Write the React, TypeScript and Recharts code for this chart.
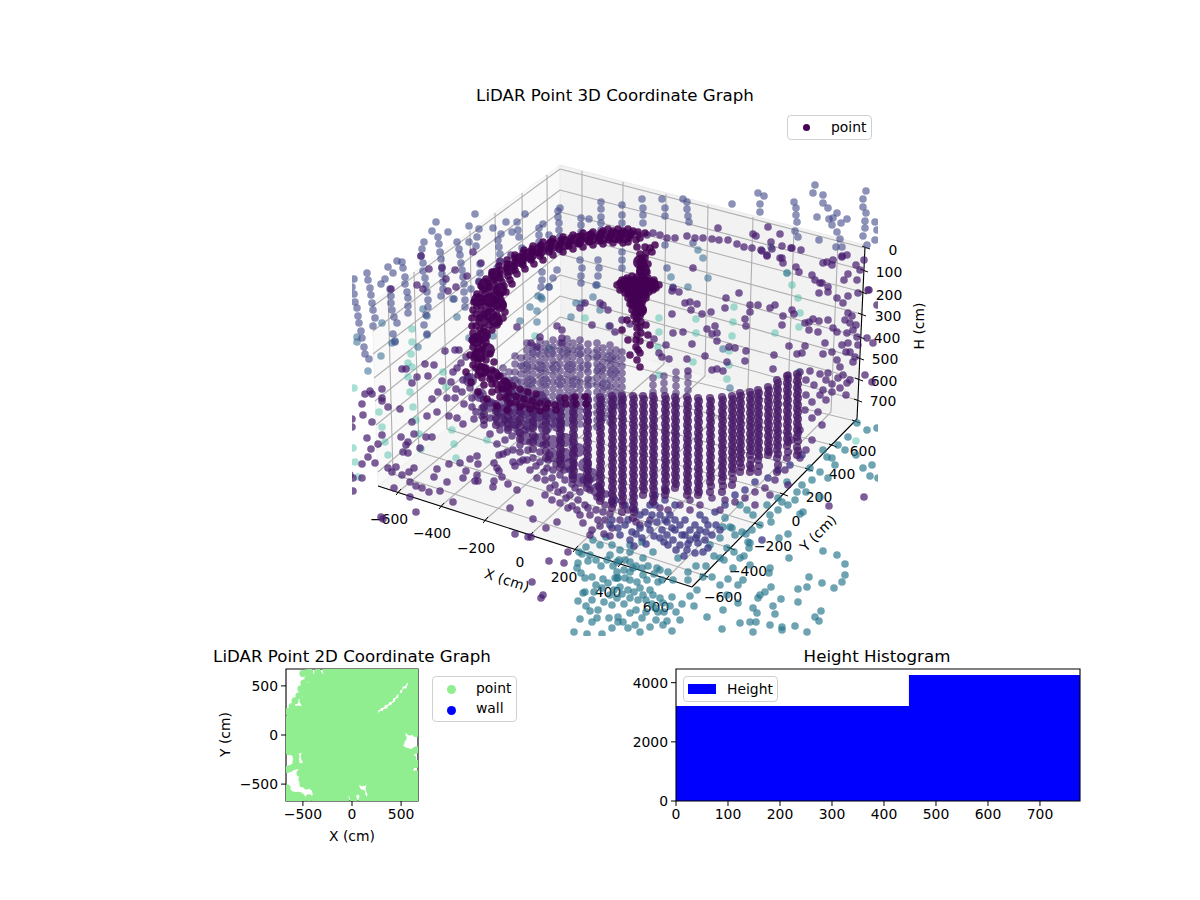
import {
    Area,
    AreaChart,
    Legend,
    ReferenceArea,
    ReferenceDot,
    ReferenceLine,
    Scatter,
    ScatterChart,
    XAxis,
    YAxis,
} from "recharts";

type Pair = [number, number];

const FONT = '"DejaVu Sans", sans-serif';

const viewX: Pair = [352, 878];
const viewY: Pair = [165, 636];
const frameX: Pair = [300, 950];
const frameY: Pair = [100, 650];

const leftPane: Pair[] = [[560, 165], [372, 303], [378, 486], [561, 335]];
const backPane: Pair[] = [[560, 165], [865, 245], [857, 419], [561, 335]];
const floorPane: Pair[] = [[378, 486], [692, 587], [857, 419], [561, 335]];

const axisEdges: [Pair, Pair][] = [
    [[378, 486], [692, 587]],
    [[692, 587], [857, 419]],
    [[865, 247], [857, 419]],
];

const gridLines: [Pair, Pair][] = [
    // back pane verticals
    [[582, 171], [582, 341]], [[623, 182], [622, 352]], [[666, 194], [664, 364]], [[708, 205], [705, 376]],
    [[753, 217], [748, 388]], [[794, 228], [788, 399]], [[838, 240], [831, 412]],
    // left pane verticals
    [[547, 175], [548, 346]], [[522, 193], [524, 366]], [[495, 213], [498, 387]], [[470, 231], [473, 408]],
    [[443, 251], [447, 429]], [[414, 272], [419, 452]], [[388, 291], [393, 474]],
    // height lines, right half
    [[865, 248], [560, 169]], [[863, 270], [560, 190]], [[862, 292], [560, 212]], [[861, 314], [560, 233]],
    [[860, 337], [560, 254]], [[859, 358], [560, 275]], [[858, 379], [560, 296]], [[857, 400], [560, 317]],
    // height lines, left half
    [[560, 169], [372, 307]], [[560, 190], [373, 331]], [[560, 212], [373, 354]], [[560, 233], [374, 378]],
    [[560, 254], [375, 401]], [[560, 275], [376, 425]], [[560, 296], [377, 448]], [[560, 317], [378, 472]],
    // floor lines running to the X axis
    [[398, 492], [582, 341]], [[441, 506], [622, 352]], [[485, 520], [664, 364]], [[530, 535], [705, 376]],
    [[575, 549], [748, 388]], [[620, 564], [788, 399]], [[666, 579], [831, 412]],
    // floor lines running to the Y axis
    [[393, 474], [703, 575]], [[419, 452], [730, 548]], [[447, 429], [757, 524]], [[473, 408], [783, 494]],
    [[498, 387], [808, 469]], [[524, 366], [832, 445]], [[548, 346], [855, 421]],
];

const xTickMarks: Pair[] = [[398, 492], [441, 506], [485, 520], [530, 535], [575, 549], [620, 564], [666, 579]];
const yTickMarks: Pair[] = [[703, 575], [730, 548], [757, 524], [783, 494], [808, 469], [832, 445], [855, 421]];
const hTickMarks: Pair[] = [[865, 247], [863, 270], [862, 292], [861, 314], [860, 337], [859, 358], [858, 379], [857, 400]];

const xTickLabels = ["−600", "−400", "−200", "0", "200", "400", "600"];
const xLabelSpots: Pair[] = [[389, 519], [432, 533], [476, 548], [520, 562], [564, 577], [608, 592], [656, 607]];
const yTickLabels = ["−600", "−400", "−200", "0", "200", "400", "600"];
const yLabelSpots: Pair[] = [[723, 597], [748, 571], [773, 546], [796, 521], [819, 497], [842, 474], [863, 451]];
const hTickLabels = ["0", "100", "200", "300", "400", "500", "600", "700"];
const hLabelSpots: Pair[] = [[893, 250], [889, 272], [889, 295], [888, 316], [887, 338], [885, 359], [884, 381], [883, 401]];

const aquaPoints: Pair[] = [
    [734, 307], [696, 319], [659, 318], [733, 322], [659, 332], [696, 333], [732, 336], [775, 333], [799, 327], [800, 313],
    [792, 285], [787, 273], [798, 298], [729, 351], [693, 362], [729, 365], [727, 379], [799, 372], [658, 347], [659, 375],
    [585, 318], [549, 348], [412, 329], [412, 342], [411, 354], [408, 363], [412, 367], [408, 377], [443, 372], [446, 387],
    [410, 392], [535, 336], [354, 388], [379, 412], [382, 427], [385, 442], [388, 455], [413, 407], [416, 420], [419, 434],
    [421, 449], [452, 430], [454, 444], [456, 458], [483, 412], [487, 440], [353, 448], [355, 462], [358, 477], [856, 441],
];

const bluishPoints: Pair[] = [
    [382, 323], [381, 356], [368, 371], [357, 337], [357, 342], [392, 343], [395, 341], [418, 347], [427, 335], [427, 316],
    [423, 309], [453, 299], [457, 317], [469, 338], [493, 336], [520, 321], [537, 322], [530, 307], [537, 311], [541, 297],
    [549, 287], [538, 296], [542, 299], [571, 317], [576, 303], [593, 297], [597, 285], [582, 303], [600, 310], [609, 326],
    [698, 250], [703, 258], [708, 278], [688, 287], [673, 287], [671, 277], [723, 349], [730, 388], [787, 273], [771, 247],
];

const lavenderPoints: Pair[] = [
    [354, 279], [352, 287], [354, 294], [355, 302], [357, 308], [358, 316], [359, 323], [361, 331], [362, 338], [364, 347], [365, 354], [369, 359],
    [367, 273], [368, 280], [370, 288], [371, 295], [372, 303], [373, 310], [375, 318], [373, 326],
    [397, 261], [402, 262], [403, 268], [405, 277], [405, 284], [407, 292], [408, 298], [408, 306], [408, 313],
    [388, 267], [393, 273], [385, 279], [381, 284], [390, 289], [391, 296], [391, 303], [392, 310], [394, 317], [397, 323], [393, 334], [395, 342],
    [424, 242], [422, 249], [421, 256], [423, 263], [423, 271], [425, 278], [426, 285], [427, 292], [428, 300], [428, 307], [426, 315], [424, 325], [427, 334],
    [436, 222], [432, 231], [438, 237], [439, 244], [440, 252], [441, 259], [442, 267], [442, 274], [443, 282], [443, 289], [441, 296],
    [448, 232], [457, 242], [459, 249], [460, 255], [461, 263], [462, 270], [463, 277], [464, 284], [464, 292], [465, 300], [465, 307], [454, 299],
    [469, 226], [479, 229], [477, 237], [469, 242], [476, 246], [480, 264], [480, 273], [479, 281], [471, 289], [475, 214],
    [493, 228], [506, 222], [501, 234], [498, 240], [499, 247], [500, 254], [500, 262], [497, 268],
    [517, 222], [518, 230], [512, 232], [525, 214], [519, 237], [522, 248], [539, 228], [543, 224], [539, 235], [539, 242], [549, 235],
    [560, 208], [558, 211], [558, 217], [559, 223], [559, 230], [560, 237], [581, 218], [581, 225], [581, 232], [589, 219], [580, 260], [582, 268], [581, 276], [581, 283],
    [601, 202], [601, 209], [601, 217], [601, 223], [601, 230], [598, 260], [599, 268], [598, 276], [596, 285], [560, 250], [557, 270], [553, 278], [542, 272], [542, 280], [541, 287], [549, 287],
    [622, 205], [622, 215], [622, 223], [622, 252], [622, 260], [622, 268], [642, 199], [643, 208], [643, 215], [643, 223],
    [662, 199], [665, 208], [665, 216], [665, 245], [667, 268], [683, 199], [687, 202], [687, 209], [688, 216], [689, 222], [693, 243],
    [732, 204], [758, 193], [764, 196], [760, 204], [760, 212], [794, 202], [796, 208], [796, 215], [797, 222], [795, 231], [798, 237],
    [815, 185], [813, 193], [823, 195], [823, 203], [828, 208], [837, 213], [847, 219], [817, 217], [829, 219], [833, 218], [841, 223], [832, 225], [837, 232], [840, 239],
    [866, 191], [863, 199], [863, 207], [866, 213], [865, 221], [875, 222], [865, 228], [877, 230], [863, 236], [875, 240], [867, 245], [842, 247], [836, 247], [819, 240],
];

const purplePoints: Pair[] = [
    [718, 228], [768, 227], [780, 234], [753, 234], [756, 236], [771, 242], [782, 246], [762, 251], [772, 249], [791, 248], [801, 250], [780, 258], [767, 256], [783, 263],
    [796, 267], [799, 272], [812, 275], [815, 280], [823, 263], [832, 265], [827, 262], [833, 260], [842, 256], [848, 274], [844, 280], [857, 280], [868, 290], [858, 293], [848, 296],
    [820, 283], [819, 293], [828, 287], [726, 298], [739, 293], [685, 303], [690, 302], [697, 304], [691, 310], [702, 314], [711, 312], [672, 314], [725, 308], [750, 305], [758, 305],
    [750, 312], [770, 308], [775, 305], [783, 316], [792, 310], [794, 314], [745, 319], [746, 326], [782, 325], [809, 322], [813, 319], [819, 321], [805, 323], [809, 330], [818, 332],
    [828, 320], [833, 328], [837, 332], [707, 329], [715, 326], [712, 334], [717, 333], [717, 341], [683, 332], [673, 288], [672, 291], [679, 292], [693, 268], [622, 320], [630, 324],
    [673, 333], [654, 339], [666, 345], [659, 353], [662, 357], [669, 359], [687, 359], [692, 344], [705, 356], [688, 371], [712, 370], [717, 369], [723, 371], [729, 347], [735, 348],
    [746, 351], [727, 362], [745, 361], [773, 369], [774, 355], [797, 354], [802, 353], [789, 346], [805, 346], [825, 343], [823, 354], [832, 352], [810, 371], [820, 374], [828, 373],
    [788, 375], [800, 372], [823, 390], [872, 382], [865, 375], [869, 290], [877, 305], [873, 343], [867, 338], [864, 260], [856, 265], [860, 270], [847, 255], [842, 257],
    [615, 235], [623, 235], [630, 235], [638, 235], [647, 235], [653, 233], [660, 235], [667, 238], [675, 238], [687, 236], [695, 238], [703, 238], [712, 239], [719, 240], [728, 240],
    [737, 244], [744, 247], [752, 248], [761, 250], [767, 255], [782, 258], [792, 248],
    [822, 283], [828, 292], [837, 298], [843, 303], [848, 313], [850, 323], [853, 330], [857, 337], [847, 333], [848, 343], [850, 352], [855, 357], [837, 360], [840, 367], [843, 375], [850, 380], [847, 383],
    [845, 320], [852, 316], [856, 325], [858, 345], [853, 362], [846, 352], [842, 345], [838, 378], [832, 384], [826, 380], [814, 385], [806, 380],
    [421, 256], [417, 285], [423, 289], [429, 269], [442, 268], [446, 279], [448, 291], [455, 270], [456, 287], [467, 276], [479, 282], [481, 263], [473, 252], [391, 289], [500, 261], [511, 255],
    [580, 308], [585, 303], [600, 303], [603, 305], [608, 310], [610, 326], [615, 332], [592, 325], [557, 326], [562, 330], [562, 338], [562, 343], [540, 337], [531, 343], [537, 347], [517, 327],
    [445, 351], [455, 350], [459, 350], [466, 357], [461, 363], [457, 368], [453, 372], [451, 382], [442, 381], [425, 364], [434, 365], [402, 369], [406, 369], [417, 377], [428, 376], [412, 383],
    [438, 392], [456, 389], [463, 380], [468, 377], [462, 392], [365, 394], [370, 391], [372, 394], [382, 389], [382, 398], [432, 399], [447, 398], [455, 398],
    [362, 404], [363, 415], [372, 422], [382, 401], [400, 409], [388, 407], [412, 422], [427, 416], [437, 412], [449, 416], [457, 418], [463, 424], [474, 419], [472, 407], [482, 416], [484, 425],
    [382, 435], [378, 444], [401, 437], [408, 442], [406, 445], [426, 437], [432, 437], [414, 434], [367, 438], [371, 449], [368, 457], [362, 464], [375, 463], [403, 452], [408, 453], [420, 448],
    [388, 468], [396, 467], [414, 468], [409, 472], [392, 472], [402, 475], [410, 482], [416, 486], [422, 488], [429, 492], [440, 491], [447, 482], [434, 477], [437, 469], [449, 464], [460, 463],
    [466, 471], [463, 478], [470, 459], [477, 456], [478, 464], [477, 475], [475, 481], [478, 481], [494, 463], [497, 468], [499, 471], [502, 477], [508, 484], [517, 490], [494, 481], [493, 487],
    [499, 455], [503, 454], [513, 462], [515, 466], [523, 460], [394, 488], [410, 497], [453, 502], [510, 508], [530, 503], [533, 519], [546, 528], [557, 522], [515, 534], [528, 537], [531, 537],
    [568, 552], [549, 561], [564, 563], [532, 582], [543, 595], [541, 598], [416, 512], [381, 517], [383, 519], [353, 491], [353, 478], [350, 475], [362, 478], [352, 419], [352, 427], [829, 506], [864, 497],
    [513, 450], [520, 445], [528, 450], [533, 458], [540, 462], [547, 468], [553, 470], [560, 475], [530, 470], [537, 478], [545, 480], [555, 485], [563, 490], [570, 495], [578, 500], [585, 505],
    [545, 495], [552, 500], [560, 503], [568, 508], [577, 510], [550, 488], [575, 488], [583, 480], [590, 490], [597, 497], [605, 505], [590, 515], [598, 520], [583, 523], [605, 520], [565, 480],
    [570, 470], [560, 460], [550, 455], [543, 445], [535, 437], [525, 430], [515, 425], [505, 420], [498, 410], [490, 403], [480, 395], [470, 388], [592, 530], [604, 534], [612, 528],
    [505, 440], [512, 436], [520, 452], [527, 460], [536, 466], [544, 472], [552, 478], [558, 492], [566, 498], [572, 506], [580, 515], [588, 508], [596, 510], [603, 512], [610, 514], [572, 484],
    [580, 492], [590, 480], [598, 486], [606, 494], [612, 502], [540, 452], [548, 460], [556, 464], [564, 470], [572, 476], [520, 462], [530, 442], [518, 432], [508, 428], [500, 430], [490, 418],
    [482, 408], [472, 398], [476, 412], [464, 404], [490, 434], [497, 444], [507, 452], [600, 526], [590, 535], [610, 536], [620, 520], [628, 510], [636, 522],
    [806, 395], [812, 402], [820, 395], [826, 400], [832, 392], [840, 388], [846, 395], [805, 410], [812, 418], [818, 412], [822, 425], [800, 430], [792, 440], [812, 440], [806, 450], [800, 458],
    [785, 470], [775, 480], [765, 488], [755, 492], [745, 498], [735, 502], [725, 500], [712, 498], [700, 505], [690, 510], [680, 505], [668, 510], [660, 508], [650, 520], [640, 525], [665, 490],
    [690, 500], [720, 510], [755, 505], [770, 495], [788, 485],
];

const steelPoints: Pair[] = [
    [579, 552], [582, 554], [586, 547], [588, 561], [578, 563], [577, 568], [581, 573], [585, 578], [592, 577], [603, 579], [615, 578], [618, 578], [585, 592], [583, 593], [578, 601], [586, 606],
    [590, 611], [580, 619], [592, 622], [597, 618], [609, 618], [618, 622], [574, 632], [587, 634], [602, 634], [594, 592], [610, 595], [617, 598], [593, 540], [600, 545], [606, 537], [612, 545],
    [620, 550], [610, 555], [625, 560], [630, 545], [617, 578], [625, 578], [630, 580], [620, 587], [637, 582], [647, 580], [660, 570], [658, 582], [650, 590], [643, 595], [653, 595], [660, 598],
    [663, 603], [672, 597], [682, 604], [655, 608], [630, 613], [623, 622], [635, 625], [667, 621], [650, 627], [663, 625], [672, 631], [618, 617], [612, 605], [638, 600], [630, 598],
    [697, 590], [703, 577], [712, 577], [720, 585], [728, 579], [727, 595], [738, 585], [743, 580], [750, 565], [740, 558], [770, 568], [769, 573], [733, 568], [720, 558], [732, 528], [746, 534],
    [749, 548], [748, 542], [771, 522], [788, 534], [789, 558], [779, 538], [800, 514], [803, 512], [797, 492], [820, 497], [837, 555], [845, 564], [845, 575], [823, 551], [809, 577], [807, 587],
    [798, 589], [822, 583], [834, 588], [842, 582], [771, 587], [760, 595], [765, 592], [758, 598], [781, 599], [773, 606], [753, 608], [798, 602], [757, 613], [775, 614], [756, 622], [815, 617],
    [821, 611], [819, 621], [782, 627], [770, 625], [740, 623], [722, 629], [707, 617], [723, 610], [738, 603], [750, 622], [795, 626], [807, 632], [753, 632], [782, 630],
    [870, 476], [878, 478], [863, 468], [872, 465], [867, 430], [857, 423], [877, 428], [835, 465], [827, 457], [832, 458], [823, 450],
    [810, 468], [802, 485], [787, 482], [778, 498], [782, 502], [767, 505], [753, 515], [747, 510], [740, 505], [725, 518], [723, 527], [730, 527], [742, 532], [735, 535], [750, 543], [720, 538], [710, 545], [727, 548],
    [617, 562], [630, 552], [642, 542], [643, 558], [653, 552], [633, 568], [617, 572], [630, 562], [643, 575], [657, 568], [678, 558], [688, 580], [668, 572], [673, 580],
    [590, 555], [596, 560], [601, 566], [607, 560], [613, 566], [619, 560], [624, 570], [630, 572], [636, 566], [642, 568], [648, 566], [654, 574], [662, 580], [596, 585], [602, 588], [608, 583],
    [614, 590], [622, 594], [628, 590], [634, 592], [640, 588], [646, 600], [652, 604], [658, 612], [664, 612], [670, 606], [676, 612], [604, 602], [598, 610], [592, 600], [624, 604], [636, 610],
    [642, 618], [628, 628], [612, 628], [640, 632], [656, 620], [646, 612], [680, 620], [690, 596], [694, 606], [688, 572], [696, 566], [706, 566], [714, 556], [724, 560], [734, 552], [744, 556],
    [752, 530], [760, 525], [770, 515], [778, 510], [788, 505], [795, 500], [806, 492], [812, 480], [820, 472], [828, 478], [838, 445], [848, 437], [845, 450], [856, 455],
];

const indigoPoints: Pair[] = [
    [652, 515], [657, 522], [662, 530], [667, 535], [673, 540], [680, 545], [687, 550], [695, 553], [703, 552], [708, 548], [660, 515], [667, 522], [675, 530], [682, 535], [690, 540], [698, 543],
    [705, 540], [712, 535], [650, 505], [655, 505], [670, 515], [680, 525], [690, 530], [700, 530], [708, 525], [720, 530], [625, 525], [632, 532], [640, 528], [612, 520], [620, 535], [640, 515],
    [762, 540], [697, 535], [685, 520], [675, 505], [665, 500], [700, 515], [715, 512], [725, 505], [735, 495], [745, 490], [755, 482], [768, 478], [778, 470], [790, 465], [802, 455],
    [615, 500], [625, 505], [635, 510], [645, 512], [655, 495], [665, 520], [675, 520], [685, 535], [695, 525], [705, 520], [668, 545], [676, 550], [684, 556], [660, 538], [650, 530], [642, 538], [630, 540],
    [610, 525], [618, 528], [628, 520], [636, 534], [648, 524], [654, 536], [664, 542], [672, 528], [688, 544], [696, 538], [706, 532], [716, 525], [646, 544], [634, 546],
];

// thick overlaps where the picture is a solid smear of points
const interiorCore: Pair[] = [
    [535, 352], [550, 352], [565, 352], [580, 352], [595, 355], [610, 358], [525, 367], [540, 367], [555, 367], [570, 367], [585, 367], [600, 369], [613, 372],
    [515, 382], [530, 382], [545, 382], [560, 382], [575, 382], [590, 382], [605, 385],
];

const lowerCore: Pair[] = [
    [490, 405], [500, 410], [512, 410], [525, 412], [538, 415], [550, 415], [500, 420], [515, 422], [530, 425], [545, 428], [558, 425], [525, 438], [540, 440], [553, 442], [565, 440],
    [552, 455], [565, 455], [578, 450], [570, 465], [585, 465], [580, 480], [592, 475], [597, 490], [510, 395], [525, 395], [540, 398], [480, 395], [470, 380],
];

const ringCore: Pair[] = [
    [478, 300], [485, 285], [495, 275], [490, 300], [500, 290], [482, 320], [490, 315], [500, 305], [476, 340], [484, 335], [495, 320], [478, 355], [488, 350], [482, 370], [494, 375], [505, 385],
    [510, 268], [520, 260], [530, 255], [540, 250], [552, 245], [565, 243], [578, 240], [590, 238], [602, 237], [615, 236], [625, 236],
    [625, 285], [635, 283], [645, 283], [652, 285], [632, 292], [642, 292], [636, 300], [640, 310], [640, 262], [643, 270],
];

// back wall columns seen through the ring
const innerColumns: number[][] = [
    [503, 368, 376, 384, 392, 400, 408, 416, 424],
    [515, 356, 364, 372, 380, 388, 396, 404, 412, 420, 428],
    [527, 343, 350, 357, 364, 371, 378, 385, 392, 399, 406, 413, 420, 427],
    [540, 341, 348, 355, 362, 369, 376, 383, 390, 397, 404, 411, 418, 425],
    [553, 340, 347, 354, 361, 368, 375, 382, 389, 396, 403, 410, 417, 424],
    [567, 339, 346, 353, 360, 367, 374, 381, 388, 395, 402, 409, 416, 423],
    [580, 340, 347, 354, 361, 368, 375, 382, 389, 396, 403, 410, 417, 424],
    [597, 343, 350, 357, 364, 371, 378, 385, 392, 399, 406, 413, 420, 427],
    [610, 345, 352, 359, 366, 373, 380, 387, 394, 401, 408, 415, 422],
    [622, 352, 359, 366, 373, 380, 387, 394, 401],
    [653, 378, 385, 392],
    [664, 376, 383, 390],
    [676, 372, 379, 386, 393],
    [688, 376, 383, 390],
    [509, 372, 380, 388, 396, 404, 412, 420],
    [521, 358, 366, 374, 382, 390, 398, 406, 414, 422],
    [533, 346, 353, 360, 367, 374, 381, 388, 395, 402, 409, 416, 423],
    [546, 344, 351, 358, 365, 372, 379, 386, 393, 400, 407, 414, 421],
    [560, 343, 350, 357, 364, 371, 378, 385, 392, 399, 406, 413, 420],
    [573, 343, 350, 357, 364, 371, 378, 385, 392, 399, 406, 413, 420],
    [588, 344, 351, 358, 365, 372, 379, 386, 393, 400, 407, 414, 421],
    [603, 348, 355, 362, 369, 376, 383, 390, 397, 404, 411, 418],
    [616, 350, 357, 364, 371, 378, 385, 392, 399, 406],
];

const ringPoints: Pair[] = [
    [472, 318], [473, 310], [474, 302], [477, 294], [481, 286], [486, 279], [492, 272], [499, 266], [507, 260], [515, 255], [524, 250], [533, 246], [543, 242], [553, 239], [563, 237], [573, 235],
    [583, 233], [593, 232], [603, 231], [613, 231], [623, 231], [633, 231], [480, 318], [481, 310], [482, 302], [485, 294], [489, 287], [494, 280], [500, 274], [507, 268], [515, 262], [523, 257],
    [532, 253], [541, 249], [551, 246], [561, 243], [571, 241], [581, 239], [591, 237], [601, 236], [611, 235], [621, 235], [631, 235], [488, 312], [490, 304], [493, 296], [497, 289], [502, 282],
    [508, 276], [515, 270], [523, 265], [531, 260], [540, 256], [549, 252], [559, 249], [569, 246], [579, 244], [589, 242], [599, 241], [609, 240], [619, 240], [495, 300], [500, 295], [503, 305],
    [497, 315], [503, 318], [490, 325], [497, 325], [486, 335], [480, 330], [475, 340], [483, 345], [472, 326], [473, 333], [472, 340], [473, 347], [476, 354], [478, 361], [481, 367], [485, 373],
    [490, 379], [496, 384], [502, 389], [509, 393], [516, 396], [524, 399], [532, 401], [540, 403], [548, 404], [480, 340], [482, 350], [486, 360], [492, 370], [498, 376], [505, 381], [513, 386],
    [520, 389], [528, 392], [536, 394], [470, 355], [473, 365], [478, 375], [484, 385], [492, 392], [500, 397], [510, 403], [520, 407], [530, 409], [540, 411], [466, 372], [471, 382], [478, 392],
    [487, 399], [497, 406], [507, 410], [555, 405], [565, 398], [575, 397], [585, 397],
    [476, 314], [477, 306], [479, 298], [483, 290], [488, 283], [493, 276], [500, 270], [507, 264], [515, 258], [523, 253], [532, 249], [541, 245], [551, 242], [561, 240], [571, 238], [581, 236],
    [591, 234], [601, 233], [611, 233], [621, 233], [631, 233], [484, 314], [485, 306], [487, 298], [491, 291], [495, 285], [500, 278], [507, 272], [514, 266], [522, 261], [530, 256], [539, 252],
    [549, 249], [559, 246], [569, 243], [579, 241], [589, 239], [599, 238], [609, 238], [619, 238], [629, 238], [492, 308], [495, 300], [499, 293], [504, 286], [510, 280], [517, 274], [525, 269],
    [534, 264], [543, 260], [553, 255], [563, 252], [573, 249], [583, 247], [593, 245], [603, 244], [613, 243], [623, 243], [498, 306], [501, 300], [506, 292], [512, 284], [505, 312], [499, 322],
    [492, 330], [484, 328], [476, 326], [478, 336], [486, 342], [478, 348], [474, 358], [482, 358], [490, 354], [476, 368], [486, 368], [494, 362], [482, 378], [492, 384], [500, 376], [498, 390],
    [508, 386], [506, 398], [516, 402], [526, 404], [536, 406], [546, 408], [556, 410], [566, 404], [576, 404], [586, 404], [608, 229], [618, 229], [628, 229], [638, 232], [628, 242], [636, 240],
    [645, 233], [640, 238],
    // centre blob
    [617, 285], [622, 280], [627, 278], [632, 276], [637, 277], [642, 276], [648, 278], [654, 280], [659, 285], [620, 290], [626, 286], [632, 284], [638, 283], [644, 283], [650, 286], [656, 288],
    [625, 293], [631, 291], [637, 290], [643, 290], [649, 292], [628, 298], [634, 296], [640, 296], [646, 298], [630, 304], [636, 302], [642, 303], [632, 310], [638, 309], [643, 310], [634, 316],
    [640, 316], [636, 322], [641, 322], [637, 328], [637, 335], [640, 341], [636, 347], [640, 353], [637, 360], [640, 367], [640, 254], [645, 258], [640, 262], [648, 264], [642, 268], [647, 272],
    [652, 252], [655, 245], [637, 247], [645, 247], [632, 305], [622, 330], [628, 340], [650, 345], [646, 325], [648, 335], [630, 355], [627, 320],
    [620, 283], [625, 280], [630, 280], [635, 280], [640, 280], [645, 280], [650, 282], [655, 284], [623, 288], [629, 288], [635, 287], [641, 287], [647, 288], [653, 290], [628, 294], [634, 293],
    [640, 293], [646, 295], [631, 300], [637, 299], [643, 300], [634, 306], [640, 306], [635, 313], [640, 312], [637, 319], [640, 327], [636, 340], [641, 333], [638, 350], [642, 258], [644, 265],
    [640, 272], [646, 253], [650, 248],
];

const frontColumns: number[][] = [
    [484, 400, 407, 414, 420],
    [496, 404, 411, 418, 425],
    [508, 396, 403, 410, 417, 424, 430],
    [520, 398, 405, 412, 419, 426, 433, 439],
    [533, 400, 407, 414, 421, 428, 435, 442, 449],
    [546, 402, 409, 416, 423, 430, 437, 444, 451, 458],
    [560, 398, 405, 412, 419, 426, 433, 440, 447, 454, 461, 468],
    [573, 398, 405, 412, 419, 426, 433, 440, 447, 454, 461, 468, 475, 479],
    [587, 397, 404, 411, 418, 425, 432, 439, 446, 453, 460, 467, 474, 481, 488],
    [600, 397, 404, 411, 418, 425, 432, 439, 446, 453, 460, 467, 474, 481, 488, 495, 501],
    [612, 396, 403, 410, 417, 424, 431, 438, 445, 452, 459, 466, 473, 480, 487, 494, 501, 508],
    [622, 396, 403, 410, 417, 424, 431, 438, 445, 452, 459, 466, 473, 480, 487, 494, 501, 512],
    [633, 396, 403, 410, 417, 424, 431, 438, 445, 452, 459, 466, 473, 480, 487, 494, 501, 508, 518],
    [643, 396, 403, 410, 417, 424, 431, 438, 445, 452, 459, 466, 473, 480, 487, 495],
    [653, 396, 403, 410, 417, 424, 431, 438, 445, 452, 459, 466, 473, 480, 487, 495, 502],
    [665, 396, 403, 410, 417, 424, 431, 438, 445, 452, 459, 466, 473, 480, 488, 495],
    [675, 397, 404, 411, 418, 425, 432, 439, 446, 453, 460, 467, 474, 481, 488],
    [687, 397, 404, 411, 418, 425, 432, 439, 446, 453, 460, 467, 474, 481, 488, 495],
    [698, 398, 405, 412, 419, 426, 433, 440, 447, 454, 461, 468, 475, 482, 489, 495],
    [710, 398, 405, 412, 419, 426, 433, 440, 447, 454, 461, 468, 475, 482, 492],
    [722, 397, 404, 411, 418, 425, 432, 439, 446, 453, 460, 467, 474, 481, 492],
    [732, 396, 403, 410, 417, 424, 431, 438, 445, 452, 459, 466, 473, 485],
    [740, 393, 400, 407, 414, 421, 428, 435, 442, 449, 456, 463, 472],
    [750, 392, 399, 406, 413, 420, 427, 434, 441, 448, 455, 465, 472],
    [758, 390, 397, 404, 411, 418, 425, 432, 439, 446, 453, 460, 472],
    [768, 387, 394, 401, 408, 415, 422, 429, 436, 443, 450, 455],
    [777, 380, 387, 394, 401, 408, 415, 422, 429, 436, 443, 450, 458, 472],
    [787, 376, 383, 390, 397, 404, 411, 418, 425, 432, 439, 446, 458],
    [797, 374, 381, 388, 395, 402, 409, 416, 423, 430, 437, 447, 455],
    // in-between returns of the same columns
    [561, 401, 408, 415, 422, 429, 436, 443, 450, 457, 464],
    [574, 401, 408, 415, 422, 429, 436, 443, 450, 457, 464, 471],
    [588, 400, 407, 414, 421, 428, 435, 442, 449, 456, 463, 470, 477, 484],
    [601, 400, 407, 414, 421, 428, 435, 442, 449, 456, 463, 470, 477, 484, 491, 498],
    [613, 399, 406, 413, 420, 427, 434, 441, 448, 455, 462, 469, 476, 483, 490, 497, 504],
    [623, 399, 406, 413, 420, 427, 434, 441, 448, 455, 462, 469, 476, 483, 490, 497, 505],
    [634, 399, 406, 413, 420, 427, 434, 441, 448, 455, 462, 469, 476, 483, 490, 497, 504, 512],
    [644, 399, 406, 413, 420, 427, 434, 441, 448, 455, 462, 469, 476, 483, 490],
    [654, 399, 406, 413, 420, 427, 434, 441, 448, 455, 462, 469, 476, 483, 490, 498],
    [666, 399, 406, 413, 420, 427, 434, 441, 448, 455, 462, 469, 476, 483, 491],
    [676, 400, 407, 414, 421, 428, 435, 442, 449, 456, 463, 470, 477, 484],
    [688, 400, 407, 414, 421, 428, 435, 442, 449, 456, 463, 470, 477, 484, 491],
    [699, 401, 408, 415, 422, 429, 436, 443, 450, 457, 464, 471, 478, 485, 492],
    [711, 401, 408, 415, 422, 429, 436, 443, 450, 457, 464, 471, 478, 486],
    [723, 400, 407, 414, 421, 428, 435, 442, 449, 456, 463, 470, 477, 486],
    [733, 399, 406, 413, 420, 427, 434, 441, 448, 455, 462, 469, 479],
    [741, 396, 403, 410, 417, 424, 431, 438, 445, 452, 459, 467],
    [751, 395, 402, 409, 416, 423, 430, 437, 444, 451, 460, 468],
    [759, 393, 400, 407, 414, 421, 428, 435, 442, 449, 456, 466],
    [769, 390, 397, 404, 411, 418, 425, 432, 439, 446, 452],
    [778, 383, 390, 397, 404, 411, 418, 425, 432, 439, 446, 454, 465],
    [788, 379, 386, 393, 400, 407, 414, 421, 428, 435, 442, 452],
    [798, 377, 384, 391, 398, 405, 412, 419, 426, 433, 441, 451],
];

const columnsToPairs = (columns: number[][]): Pair[] =>
    columns.flatMap(([x, ...ys]) => ys.map(y => [x, y] as Pair));

const toRows = (points: Pair[]) => points.map(([x, y]) => ({ x, y }));

// 2D chart values (cm)
const planeTicks = [-500, 0, 500];
const planeDomain: Pair = [-672, 672];

// wide strokes of the point cloud, one row per Y value
const planeRows: number[][] = [
    [660, -220, -110, 0, 110, 220, 330, 440, 550, 660],
    [550, -330, -220, -110, 0, 110, 220, 330, 440, 660],
    [440, -440, -330, -220, -110, 0, 110, 220, 330, 660],
    [330, -440, -330, -220, -110, 0, 110, 220, 550, 660],
    [220, -550, -440, -330, -220, -110, 0, 110, 440, 550, 660],
    [110, -660, -550, -440, -330, -220, -110, 0, 110, 220, 330, 440, 550, 660],
    [0, -660, -550, -440, -330, -220, -110, 0, 110, 220, 330, 440],
    [-110, -660, -550, -440, -330, -220, -110, 0, 110, 220, 330, 440],
    [-220, -440, -330, -220, -110, 0, 110, 220, 330, 440, 550],
    [-330, -440, -330, -220, -110, 0, 110, 220, 330, 440, 550],
    [-440, -440, -330, -220, -110, 0, 110, 220, 330, 440, 550, 660],
    [-550, -330, -220, -110, 0, 220, 330, 440, 550, 660],
    [-660, -660, -550, -330, -220, -110, 220, 330, 440, 550, 660],
];

const planeCloud: Pair[] = planeRows.flatMap(([y, ...xs]) => xs.map(x => [x, y] as Pair));

// finer points hugging the white gaps
const planeEdge: Pair[] = [
    [-650, 240], [-610, 290], [-580, 350], [-540, 400], [-520, 470], [-490, 530], [-450, 570], [-400, 590], [-340, 620], [-500, 350], [-500, 430], [-450, 500], [-400, 530], [-464, 634], [-430, 640], [-500, 625],
    [-640, 170], [-590, 200], [-600, 140], [-350, 640], [-350, 590],
    [260, 285], [300, 310], [345, 340], [385, 370], [420, 410], [455, 445], [480, 490], [520, 530], [540, 560], [490, 540], [440, 510], [400, 460], [370, 420], [330, 380], [280, 350], [250, 320], [470, 590], [530, 600], [590, 620], [590, 570],
    [300, 210], [345, 235], [395, 270], [435, 300], [470, 340], [505, 395], [545, 440], [590, 480], [610, 440], [590, 400], [540, 350], [490, 290], [440, 260], [385, 220], [630, 520], [600, 540], [660, 480], [640, 400],
    [200, 250], [230, 240], [170, 220], [240, 200], [200, 190], [150, 270], [220, 290], [270, 180], [330, 170], [380, 170],
    [510, 50], [510, 10], [520, -30], [500, -70], [490, -120], [520, -150], [560, -165], [600, -175], [640, -160], [660, -150], [640, 40], [590, 30], [560, 50], [620, 60], [660, 60], [650, 15],
    [-610, -130], [-640, -170], [-590, -180], [-570, -220], [-570, -270], [-590, -320], [-630, -340], [-660, -350], [-530, -320], [-530, -390], [-510, -450], [-500, -500], [-460, -520], [-400, -530], [-370, -570], [-370, -620], [-375, -660],
    [-600, -610], [-640, -590], [-560, -640], [-660, -540], [-440, -640],
    [0, -590], [10, -640], [20, -665], [100, -590], [110, -630], [120, -660], [60, -570], [100, -665], [30, -570],
    [610, -300], [620, -240], [650, -300], [610, -260], [660, -290],
];

const planeLegend = [
    { label: "point", color: "#90ee90" },
    { label: "wall", color: "#0000ff" },
];

// height histogram: bin edges and counts
const heightBins = [
    { h: 0, count: 3210 },
    { h: 448, count: 4260 },
    { h: 777, count: 4260 },
];
const heightTicksX = [0, 100, 200, 300, 400, 500, 600, 700];
const heightTicksY = [0, 2000, 4000];

const tickStyle = { fontSize: 13.9, fill: "#000", fontFamily: FONT };
const legendBox = {
    background: "#fff",
    border: "1px solid #d0d0d0",
    borderRadius: 4,
    boxSizing: "border-box" as const,
    fontFamily: FONT,
    fontSize: 13.9,
    color: "#000",
};

const minusTick = (value: number) => String(value).replace("-", "−");

const dot = (r: number, fill: string, opacity: number) => (props: any) =>
    <circle cx={props.cx} cy={props.cy} r={r} fill={fill} fillOpacity={opacity} />;

const viewText = (text: string, angle = 0) => (props: any) => (
    <text
        x={props.cx}
        y={props.cy}
        textAnchor="middle"
        dominantBaseline="central"
        transform={angle ? `rotate(${angle} ${props.cx} ${props.cy})` : undefined}
        fontFamily={FONT}
        fontSize={13.9}
        fill="#000"
    >
        {text}
    </text>
);

const Title = ({ x, y, children }: { x: number; y: number; children: string }) => (
    <div
        style={{
            position: "absolute",
            left: x,
            top: y,
            transform: "translate(-50%, -50%)",
            whiteSpace: "nowrap",
            fontFamily: FONT,
            fontSize: 16.67,
            color: "#000",
        }}
    >
        {children}
    </div>
);

// the three grey walls of the 3D box
const Panes = (props: any) => {
    const toPoints = (corners: Pair[]) =>
        corners
            .map(([x, y]) => {
                const px = props.x + ((x - frameX[0]) / (frameX[1] - frameX[0])) * props.width;
                const py = props.y + ((y - frameY[0]) / (frameY[1] - frameY[0])) * props.height;
                return `${px},${py}`;
            })
            .join(" ");
    return (
        <g>
            <polygon points={toPoints(leftPane)} fill="#f9f9f9" stroke="#f1f1f1" />
            <polygon points={toPoints(backPane)} fill="#f2f2f2" stroke="#ebebeb" />
            <polygon points={toPoints(floorPane)} fill="#f5f5f5" stroke="#eeeeee" />
        </g>
    );
};

const PointLegend = () => (
    <div style={{ ...legendBox, width: 85, height: 25, position: "relative" }}>
        <span style={{ position: "absolute", left: 15, top: 8, width: 7, height: 7, borderRadius: "50%", background: "#440154" }} />
        <span style={{ position: "absolute", left: 43, top: 2, lineHeight: "18px" }}>point</span>
    </div>
);

const PlaneLegend = () => (
    <div style={{ ...legendBox, width: 85, height: 46, position: "relative" }}>
        {planeLegend.map((item, i) => (
            <div key={item.label}>
                <span
                    style={{
                        position: "absolute",
                        left: 14,
                        top: 8 + i * 21,
                        width: 9,
                        height: 9,
                        borderRadius: "50%",
                        background: item.color,
                    }}
                />
                <span style={{ position: "absolute", left: 43, top: 2 + i * 20, lineHeight: "18px" }}>{item.label}</span>
            </div>
        ))}
    </div>
);

const HeightLegend = () => (
    <div style={{ ...legendBox, width: 95, height: 26, position: "relative" }}>
        <span style={{ position: "absolute", left: 4, top: 7, width: 28, height: 10, background: "#0000ff" }} />
        <span style={{ position: "absolute", left: 43, top: 3, lineHeight: "18px" }}>Height</span>
    </div>
);

export default function App() {
    return (
        <div style={{ position: "absolute", left: 0, top: 0, width: 1200, height: 900, background: "#fff", overflow: "hidden" }}>
            <Title x={615} y={95}>LiDAR Point 3D Coordinate Graph</Title>
            <Title x={352} y={656}>LiDAR Point 2D Coordinate Graph</Title>
            <Title x={877} y={656}>Height Histogram</Title>

            {/* 3D box: walls, grid, axes and their labels */}
            <div style={{ position: "absolute", left: frameX[0], top: frameY[0] }}>
                <ScatterChart width={650} height={550} margin={{ top: 0, right: 0, bottom: 0, left: 0 }}>
                    <XAxis type="number" dataKey="x" domain={frameX} hide allowDataOverflow />
                    <YAxis type="number" dataKey="y" domain={frameY} reversed hide width={0} allowDataOverflow />
                    <ReferenceArea x1={frameX[0]} x2={frameX[1]} y1={frameY[0]} y2={frameY[1]} shape={Panes} />
                    {gridLines.map(([a, b], i) => (
                        <ReferenceLine
                            key={i}
                            segment={[{ x: a[0], y: a[1] }, { x: b[0], y: b[1] }]}
                            stroke="#b0b0b0"
                            strokeWidth={1.1}
                        />
                    ))}
                    {axisEdges.map(([a, b], i) => (
                        <ReferenceLine
                            key={i}
                            segment={[{ x: a[0], y: a[1] }, { x: b[0], y: b[1] }]}
                            stroke="#000"
                            strokeWidth={1.1}
                        />
                    ))}
                    {xTickMarks.map(([x, y], i) => (
                        <ReferenceLine key={i} segment={[{ x: x - 2, y: y + 3 }, { x: x + 3, y: y - 3 }]} stroke="#000" strokeWidth={1} />
                    ))}
                    {yTickMarks.map(([x, y], i) => (
                        <ReferenceLine key={i} segment={[{ x: x - 3, y: y - 1 }, { x: x + 5, y: y + 2 }]} stroke="#000" strokeWidth={1} />
                    ))}
                    {hTickMarks.map(([x, y], i) => (
                        <ReferenceLine key={i} segment={[{ x: x - 3, y: y - 1 }, { x: x + 5, y: y + 2 }]} stroke="#000" strokeWidth={1} />
                    ))}
                    {xLabelSpots.map(([x, y], i) => (
                        <ReferenceDot key={i} x={x} y={y} r={0} shape={viewText(xTickLabels[i])} />
                    ))}
                    {yLabelSpots.map(([x, y], i) => (
                        <ReferenceDot key={i} x={x} y={y} r={0} shape={viewText(yTickLabels[i])} />
                    ))}
                    {hLabelSpots.map(([x, y], i) => (
                        <ReferenceDot key={i} x={x} y={y} r={0} shape={viewText(hTickLabels[i])} />
                    ))}
                    <ReferenceDot x={507} y={580} r={0} shape={viewText("X (cm)", 18)} />
                    <ReferenceDot x={818} y={533} r={0} shape={viewText("Y (cm)", -45)} />
                    <ReferenceDot x={919} y={326} r={0} shape={viewText("H (cm)", -90)} />
                    <Legend
                        layout="horizontal"
                        verticalAlign="middle"
                        align="center"
                        content={<PointLegend />}
                        wrapperStyle={{ left: 487, top: 15, width: 85, height: 25 }}
                    />
                </ScatterChart>
            </div>

            {/* 3D point cloud, clipped to the axes box */}
            <div style={{ position: "absolute", left: viewX[0], top: viewY[0] }}>
                <ScatterChart width={526} height={471} margin={{ top: 0, right: 0, bottom: 0, left: 0 }}>
                    <XAxis type="number" dataKey="x" domain={viewX} hide allowDataOverflow />
                    <YAxis type="number" dataKey="y" domain={viewY} reversed hide width={0} allowDataOverflow />
                    <Scatter data={toRows(aquaPoints)} shape={dot(3.8, "#2fb59c", 0.42)} isAnimationActive={false} />
                    <Scatter data={toRows(bluishPoints)} shape={dot(3.8, "#31688e", 0.55)} isAnimationActive={false} />
                    <Scatter data={toRows(lavenderPoints)} shape={dot(3.8, "#3f4788", 0.6)} isAnimationActive={false} />
                    <Scatter data={toRows(steelPoints)} shape={dot(3.8, "#2a788e", 0.68)} isAnimationActive={false} />
                    <Scatter data={toRows(interiorCore)} shape={dot(6, "#40307c", 0.4)} isAnimationActive={false} />
                    <Scatter data={toRows(columnsToPairs(innerColumns))} shape={dot(3.8, "#42286f", 0.6)} isAnimationActive={false} />
                    <Scatter data={toRows(purplePoints)} shape={dot(3.8, "#481f70", 0.72)} isAnimationActive={false} />
                    <Scatter data={toRows(indigoPoints)} shape={dot(3.8, "#3d3a85", 0.78)} isAnimationActive={false} />
                    <Scatter data={toRows(lowerCore)} shape={dot(7, "#47206f", 0.7)} isAnimationActive={false} />
                    <Scatter data={toRows(columnsToPairs(frontColumns))} shape={dot(4.1, "#461867", 0.74)} isAnimationActive={false} />
                    <Scatter data={toRows(ringCore)} shape={dot(7, "#440154", 0.9)} isAnimationActive={false} />
                    <Scatter data={toRows(ringPoints)} shape={dot(3.8, "#440154", 0.85)} isAnimationActive={false} />
                </ScatterChart>
            </div>

            {/* 2D plane */}
            <div style={{ position: "absolute", left: 206, top: 640 }}>
                <ScatterChart width={320} height={215} margin={{ top: 29, right: 108, bottom: 24, left: 20 }}>
                    <XAxis
                        type="number"
                        dataKey="x"
                        domain={planeDomain}
                        ticks={planeTicks}
                        tickFormatter={minusTick}
                        tick={tickStyle}
                        tickSize={5}
                        tickMargin={3}
                        height={30}
                        axisLine={false}
                        tickLine={{ stroke: "#000" }}
                        allowDataOverflow
                        label={{ value: "X (cm)", position: "bottom", offset: 0, style: { ...tickStyle } }}
                    />
                    <YAxis
                        type="number"
                        dataKey="y"
                        domain={planeDomain}
                        ticks={planeTicks}
                        tickFormatter={minusTick}
                        tick={tickStyle}
                        tickSize={5}
                        tickMargin={3}
                        width={60}
                        axisLine={false}
                        tickLine={{ stroke: "#000" }}
                        allowDataOverflow
                        label={{ value: "Y (cm)", angle: -90, position: "insideLeft", offset: -1, dy: 22, style: { ...tickStyle } }}
                    />
                    <Scatter name="point" data={toRows(planeCloud)} shape={dot(8, "#90ee90", 1)} isAnimationActive={false} />
                    <Scatter name="point" data={toRows(planeEdge)} shape={dot(3.5, "#90ee90", 1)} isAnimationActive={false} />
                    <ReferenceArea
                        x1={planeDomain[0]}
                        x2={planeDomain[1]}
                        y1={planeDomain[0]}
                        y2={planeDomain[1]}
                        fill="none"
                        stroke="#000"
                        strokeWidth={1.1}
                    />
                    <Legend
                        layout="horizontal"
                        verticalAlign="middle"
                        align="center"
                        content={<PlaneLegend />}
                        wrapperStyle={{ left: 226, top: 36, width: 85, height: 46 }}
                    />
                </ScatterChart>
            </div>

            {/* height histogram */}
            <div style={{ position: "absolute", left: 620, top: 640 }}>
                <AreaChart width={480} height={215} data={heightBins} margin={{ top: 29, right: 20, bottom: 24, left: 16 }}>
                    <XAxis
                        type="number"
                        dataKey="h"
                        domain={[0, 777]}
                        ticks={heightTicksX}
                        tick={tickStyle}
                        tickSize={5}
                        tickMargin={3}
                        height={30}
                        axisLine={false}
                        tickLine={{ stroke: "#000" }}
                        allowDataOverflow
                    />
                    <YAxis
                        type="number"
                        domain={[0, 4463]}
                        ticks={heightTicksY}
                        tick={tickStyle}
                        tickSize={5}
                        tickMargin={3}
                        width={40}
                        axisLine={false}
                        tickLine={{ stroke: "#000" }}
                        allowDataOverflow
                    />
                    <Area
                        type="stepAfter"
                        dataKey="count"
                        name="Height"
                        stroke="none"
                        fill="#0000ff"
                        fillOpacity={1}
                        isAnimationActive={false}
                    />
                    <ReferenceArea x1={0} x2={777} y1={0} y2={4463} fill="none" stroke="#000" strokeWidth={1.1} />
                    <Legend
                        layout="horizontal"
                        verticalAlign="middle"
                        align="center"
                        content={<HeightLegend />}
                        wrapperStyle={{ left: 63, top: 36, width: 95, height: 26 }}
                    />
                </AreaChart>
            </div>
        </div>
    );
}
